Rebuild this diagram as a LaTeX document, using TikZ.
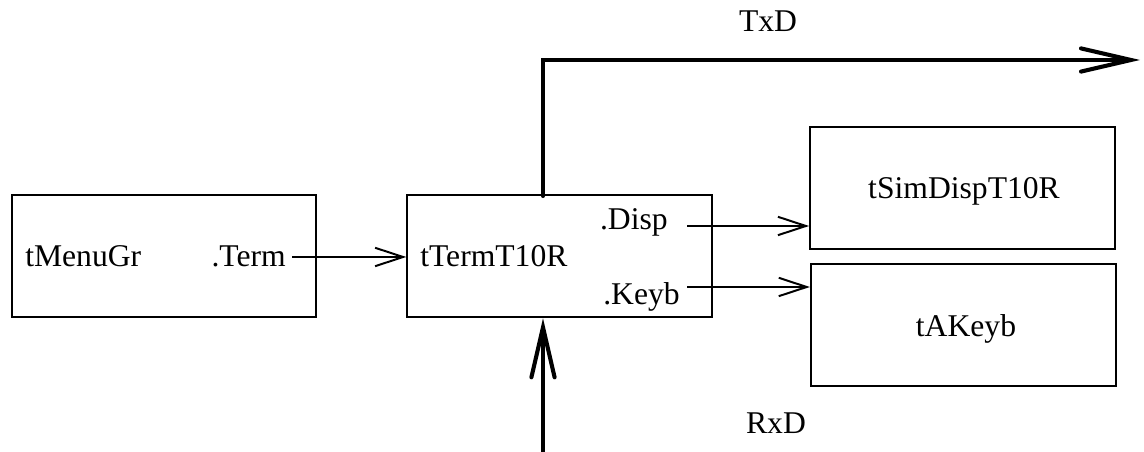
\documentclass[tikz,border=0pt]{standalone}
\usepackage{fontspec}
\setmainfont{Liberation Serif}
\usetikzlibrary{arrows.meta}

\begin{document}
\begin{tikzpicture}[
        box/.style={draw,line width=1.3pt,minimum width=7.62cm,minimum height=3.05cm},
        lbl/.style={inner sep=0pt,font=\fontsize{22.5}{26}\selectfont},
        thinarr/.style={line width=1.4pt,-{Straight Barb[length=0.7cm,width=0.46cm,line width=1.4pt]}},
        thickarr/.style={line width=2.9pt,line cap=round,-{Straight Barb[length=1.25cm,width=0.58cm,line width=2.9pt,line cap=round]}}
    ]
        \useasboundingbox (0,0) rectangle (28.6,11.3);
        % the four blocks
        \node[box] (menu) at (4.1,4.9) {};
        \node[box] (term) at (13.99,4.89) {};
        \node[box] (simdisp) at (24.06,6.6) {};
        \node[box] (akeyb) at (24.08,3.175) {};
        % texts
        \node[lbl,anchor=base west] (menuname) at (0.625,4.625) {tMenuGr};
        \node[lbl,anchor=base east] (menuterm) at (7.15,4.625) {.Term};
        \node[lbl,anchor=base west] (termname) at (10.5,4.625) {tTermT10R};
        \node[lbl,anchor=base east] (termdisp) at (16.7,5.55) {.Disp};
        \node[lbl,anchor=base east] (termkeyb) at (17.0,3.675) {.Keyb};
        \node[lbl,anchor=base] (simdispname) at (24.1,6.325) {tSimDispT10R};
        \node[lbl,anchor=base] (akeybname) at (24.15,2.875) {tAKeyb};
        \node[lbl,anchor=base] (txdlbl) at (19.2,10.5) {TxD};
        \node[lbl,anchor=base] (rxdlbl) at (19.4,0.45) {RxD};
        % ports
        \coordinate (termport) at (7.3,4.875);
        \coordinate (dispport) at (17.175,5.65);
        \coordinate (keybport) at (17.175,4.125);
        \coordinate (txd) at (13.575,6.4);
        \coordinate (txdend) at (28.5,9.8);
        \coordinate (rxd) at (13.575,0);
        % connections
        \draw[thinarr] (termport) -- (termport -| term.west);
        \draw[thinarr] (dispport) -- (dispport -| simdisp.west);
        \draw[thinarr] (keybport) -- (keybport -| akeyb.west);
        \draw[thickarr] (txd) |- (txdend);
        \draw[thickarr] (rxd) -- (rxd |- term.south);
    \end{tikzpicture}
\end{document}
